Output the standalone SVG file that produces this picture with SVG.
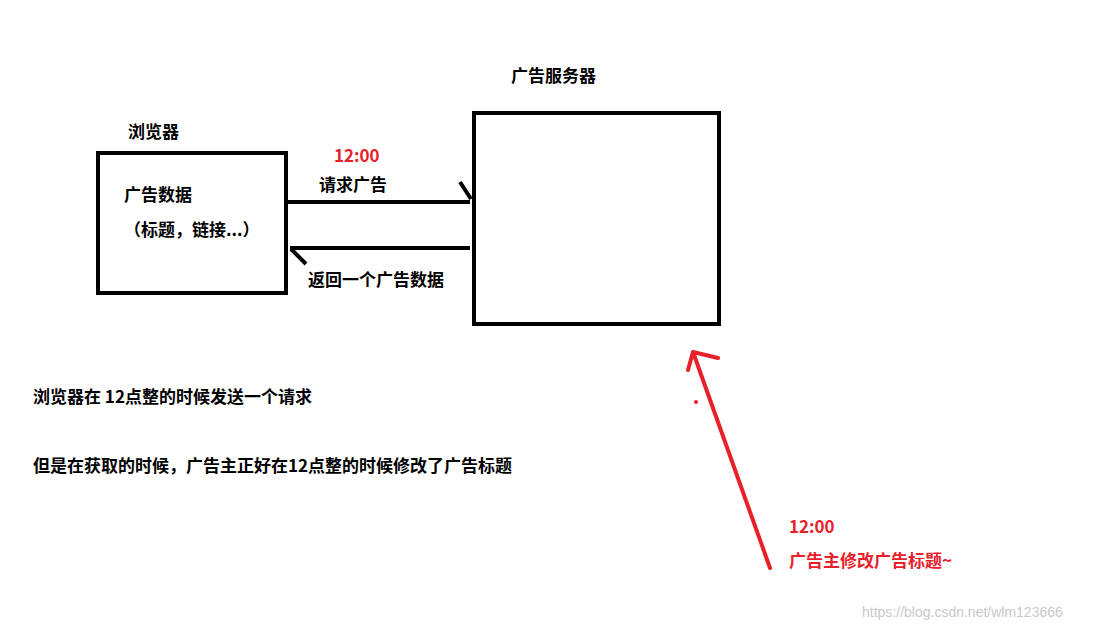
<svg xmlns="http://www.w3.org/2000/svg" width="1098" height="630" viewBox="0 0 1098 630">
<style>
text{font-family:"Microsoft YaHei","Noto Sans CJK SC",sans-serif;font-weight:bold;font-size:17px;fill:#000}
.r{fill:#e8202a}
.box{fill:none;stroke:#000;stroke-width:4}
.k{stroke:#000;stroke-width:4;fill:none}
.rl{stroke:#e8202a;stroke-width:4;fill:none;stroke-linecap:round}
</style>
<rect width="1098" height="630" fill="#fff"/>
<g id="browser">
<rect class="box" x="98" y="153" width="188" height="140"/>
<text x="128" y="138">浏览器</text>
<text x="124" y="201">广告数据</text>
<text x="124" y="236">（标题，链接...）</text>
</g>
<g id="server">
<rect class="box" x="474" y="113" width="245" height="211"/>
<text x="511" y="82">广告服务器</text>
</g>
<g id="connectors">
<path class="k" d="M287 202H470M460 182L471 199"/>
<path class="k" d="M290 248H470M291 249L306 264"/>
<path class="rl" d="M770 568L693 352M693 352L688 370M693 352L718 358"/>
<circle cx="696" cy="402" r="2" fill="#e8202a"/>
</g>
<g id="labels">
<text class="r" x="334" y="162">12:00</text>
<text x="319" y="191">请求广告</text>
<text x="308" y="286">返回一个广告数据</text>
<text x="33" y="403">浏览器在 12点整的时候发送一个请求</text>
<text x="33" y="472">但是在获取的时候，广告主正好在12点整的时候修改了广告标题</text>
<text class="r" x="789" y="533">12:00</text>
<text class="r" x="789" y="567">广告主修改广告标题~</text>
<text x="862" y="617" style="font-weight:normal;font-size:14px;fill:#c8c8c8;font-family:'Liberation Sans',sans-serif">https://blog.csdn.net/wlm123666</text>
</g>
</svg>
